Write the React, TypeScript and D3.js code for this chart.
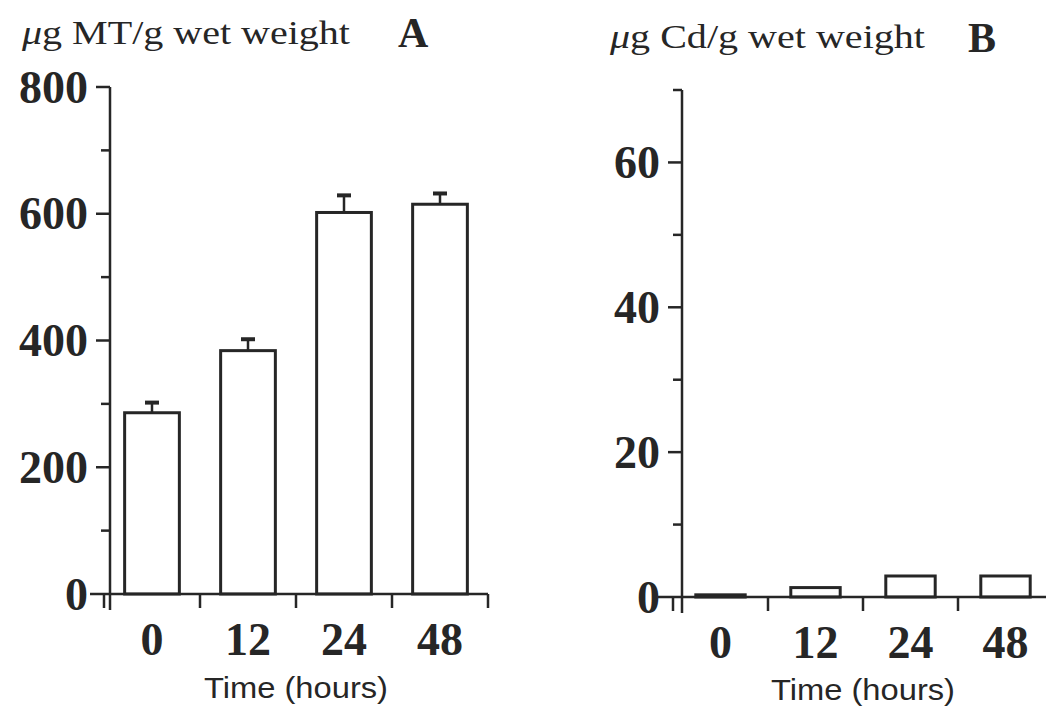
import React, { useEffect, useRef } from "react";
import * as d3 from "d3";

const timeLabels = ["0", "12", "24", "48"];
const mtValues = [286, 384, 602, 615];
const mtErrors = [16, 18, 27, 17];
const cdValues = [0.3, 1.3, 2.9, 2.9];
const mtMajorTicks = [0, 200, 400, 600, 800];
const mtMinorTicks = [100, 300, 500, 700];
const cdMajorTicks = [0, 20, 40, 60];
const cdMinorTicks = [10, 30, 50, 70];

const INK = "#262626";
const SERIF = "'Liberation Serif', 'DejaVu Serif', serif";
const SANS = "'Liberation Sans', Arial, sans-serif";

interface PanelOpts {
  values: number[];
  errors?: number[];
  yMax: number;
  majorTicks: number[];
  minorTicks: number[];
  yTop: number;
  yBottom: number;
  axisX: number;
  xStart: number;
  xEnd: number;
  lineStart: number;
  lineEnd: number;
  barFrac: number;
  title: string;
  titleX: number;
  titleY: number;
  titleLen: number;
  letter: string;
  letterX: number;
  letterY: number;
  xLabelY: number;
  xTitleY: number;
}

function drawPanel(svg: d3.Selection<SVGSVGElement, unknown, null, undefined>, o: PanelOpts) {
  const g = svg.append("g");

  const x = d3.scaleBand<string>().domain(timeLabels).range([o.xStart, o.xEnd]).padding(0);
  const y = d3.scaleLinear().domain([0, o.yMax]).range([o.yBottom, o.yTop]);

  // bars
  const bw = x.bandwidth() * o.barFrac;
  g.selectAll("rect.bar")
    .data(o.values)
    .join("rect")
    .attr("class", "bar")
    .attr("x", (_, i) => x(timeLabels[i])! + (x.bandwidth() - bw) / 2)
    .attr("y", (d) => y(d))
    .attr("width", bw)
    .attr("height", (d) => y(0) - y(d))
    .attr("fill", "white")
    .attr("stroke", INK)
    .attr("stroke-width", 3);

  // error bars
  if (o.errors) {
    const eb = g.selectAll("g.err").data(o.values).join("g").attr("class", "err");
    eb.append("line")
      .attr("x1", (_, i) => x(timeLabels[i])! + x.bandwidth() / 2)
      .attr("x2", (_, i) => x(timeLabels[i])! + x.bandwidth() / 2)
      .attr("y1", (d) => y(d))
      .attr("y2", (d, i) => y(d + o.errors![i]))
      .attr("stroke", INK)
      .attr("stroke-width", 2.5);
    eb.append("line")
      .attr("x1", (_, i) => x(timeLabels[i])! + x.bandwidth() / 2 - 7)
      .attr("x2", (_, i) => x(timeLabels[i])! + x.bandwidth() / 2 + 7)
      .attr("y1", (d, i) => y(d + o.errors![i]))
      .attr("y2", (d, i) => y(d + o.errors![i]))
      .attr("stroke", INK)
      .attr("stroke-width", 4);
  }

  // y axis
  g.append("line")
    .attr("x1", o.axisX)
    .attr("x2", o.axisX)
    .attr("y1", y(o.yMax))
    .attr("y2", y(0) + 16)
    .attr("stroke", INK)
    .attr("stroke-width", 2.5);

  g.selectAll("line.major")
    .data(o.majorTicks.filter((t) => t > 0))
    .join("line")
    .attr("class", "major")
    .attr("x1", o.axisX - 14)
    .attr("x2", o.axisX)
    .attr("y1", (d) => y(d))
    .attr("y2", (d) => y(d))
    .attr("stroke", INK)
    .attr("stroke-width", 2.5);

  g.selectAll("line.minor")
    .data(o.minorTicks)
    .join("line")
    .attr("class", "minor")
    .attr("x1", o.axisX - 9)
    .attr("x2", o.axisX)
    .attr("y1", (d) => y(d))
    .attr("y2", (d) => y(d))
    .attr("stroke", INK)
    .attr("stroke-width", 2.5);

  g.selectAll("text.ylab")
    .data(o.majorTicks)
    .join("text")
    .attr("class", "ylab")
    .attr("x", o.axisX - 22)
    .attr("y", (d) => y(d))
    .attr("dy", "0.34em")
    .attr("text-anchor", "end")
    .attr("font-family", SERIF)
    .attr("font-weight", "bold")
    .attr("font-size", 46)
    .attr("fill", INK)
    .text((d) => d);

  // x axis
  g.append("line")
    .attr("x1", o.lineStart)
    .attr("x2", o.lineEnd)
    .attr("y1", y(0))
    .attr("y2", y(0))
    .attr("stroke", INK)
    .attr("stroke-width", 2.5);

  const edges = timeLabels.map((t) => x(t)!).concat([o.xEnd]);
  g.selectAll("line.xtick")
    .data(edges)
    .join("line")
    .attr("class", "xtick")
    .attr("x1", (d) => d)
    .attr("x2", (d) => d)
    .attr("y1", y(0))
    .attr("y2", y(0) + 14)
    .attr("stroke", INK)
    .attr("stroke-width", 2.5);

  g.selectAll("text.xlab")
    .data(timeLabels)
    .join("text")
    .attr("class", "xlab")
    .attr("x", (d) => x(d)! + x.bandwidth() / 2)
    .attr("y", o.xLabelY)
    .attr("text-anchor", "middle")
    .attr("font-family", SERIF)
    .attr("font-weight", "bold")
    .attr("font-size", 46)
    .attr("fill", INK)
    .text((d) => d);

  g.append("text")
    .attr("x", (o.xStart + o.xEnd) / 2)
    .attr("y", o.xTitleY)
    .attr("text-anchor", "middle")
    .attr("font-family", SANS)
    .attr("font-size", 29)
    .attr("fill", INK)
    .attr("textLength", 184)
    .attr("lengthAdjust", "spacingAndGlyphs")
    .text("Time (hours)");

  // titles
  const title = g.append("text")
    .attr("x", o.titleX)
    .attr("y", o.titleY)
    .attr("font-family", SERIF)
    .attr("font-size", 33)
    .attr("fill", INK)
    .attr("textLength", o.titleLen)
    .attr("lengthAdjust", "spacingAndGlyphs");
  title.append("tspan").attr("font-style", "italic").text("\u03bc");
  title.append("tspan").text(o.title);

  g.append("text")
    .attr("x", o.letterX)
    .attr("y", o.letterY)
    .attr("font-family", SERIF)
    .attr("font-weight", "bold")
    .attr("font-size", 42)
    .attr("fill", INK)
    .text(o.letter);
}

export default function App() {
  const ref = useRef<SVGSVGElement>(null);

  useEffect(() => {
    if (!ref.current) return;
    const svg = d3.select(ref.current);
    svg.selectAll("*").remove();

    drawPanel(svg, {
      values: mtValues,
      errors: mtErrors,
      yMax: 800,
      majorTicks: mtMajorTicks,
      minorTicks: mtMinorTicks,
      yTop: 87,
      yBottom: 594,
      axisX: 110,
      xStart: 104,
      xEnd: 488,
      lineStart: 90,
      lineEnd: 488,
      barFrac: 0.57,
      title: "g MT/g wet weight",
      titleX: 22,
      titleY: 44,
      titleLen: 328,
      letter: "A",
      letterX: 398,
      letterY: 47,
      xLabelY: 655,
      xTitleY: 698,
    });

    drawPanel(svg, {
      values: cdValues,
      yMax: 70,
      majorTicks: cdMajorTicks,
      minorTicks: cdMinorTicks,
      yTop: 90,
      yBottom: 597,
      axisX: 682,
      xStart: 673,
      xEnd: 1053,
      lineStart: 658,
      lineEnd: 1060,
      barFrac: 0.52,
      title: "g Cd/g wet weight",
      titleX: 610,
      titleY: 48,
      titleLen: 315,
      letter: "B",
      letterX: 968,
      letterY: 52,
      xLabelY: 658,
      xTitleY: 700,
    });
  }, []);

  return (
    <svg
      ref={ref}
      width={1046}
      height={713}
      style={{ position: "absolute", left: 0, top: 0, background: "white", display: "block" }}
    />
  );
}
